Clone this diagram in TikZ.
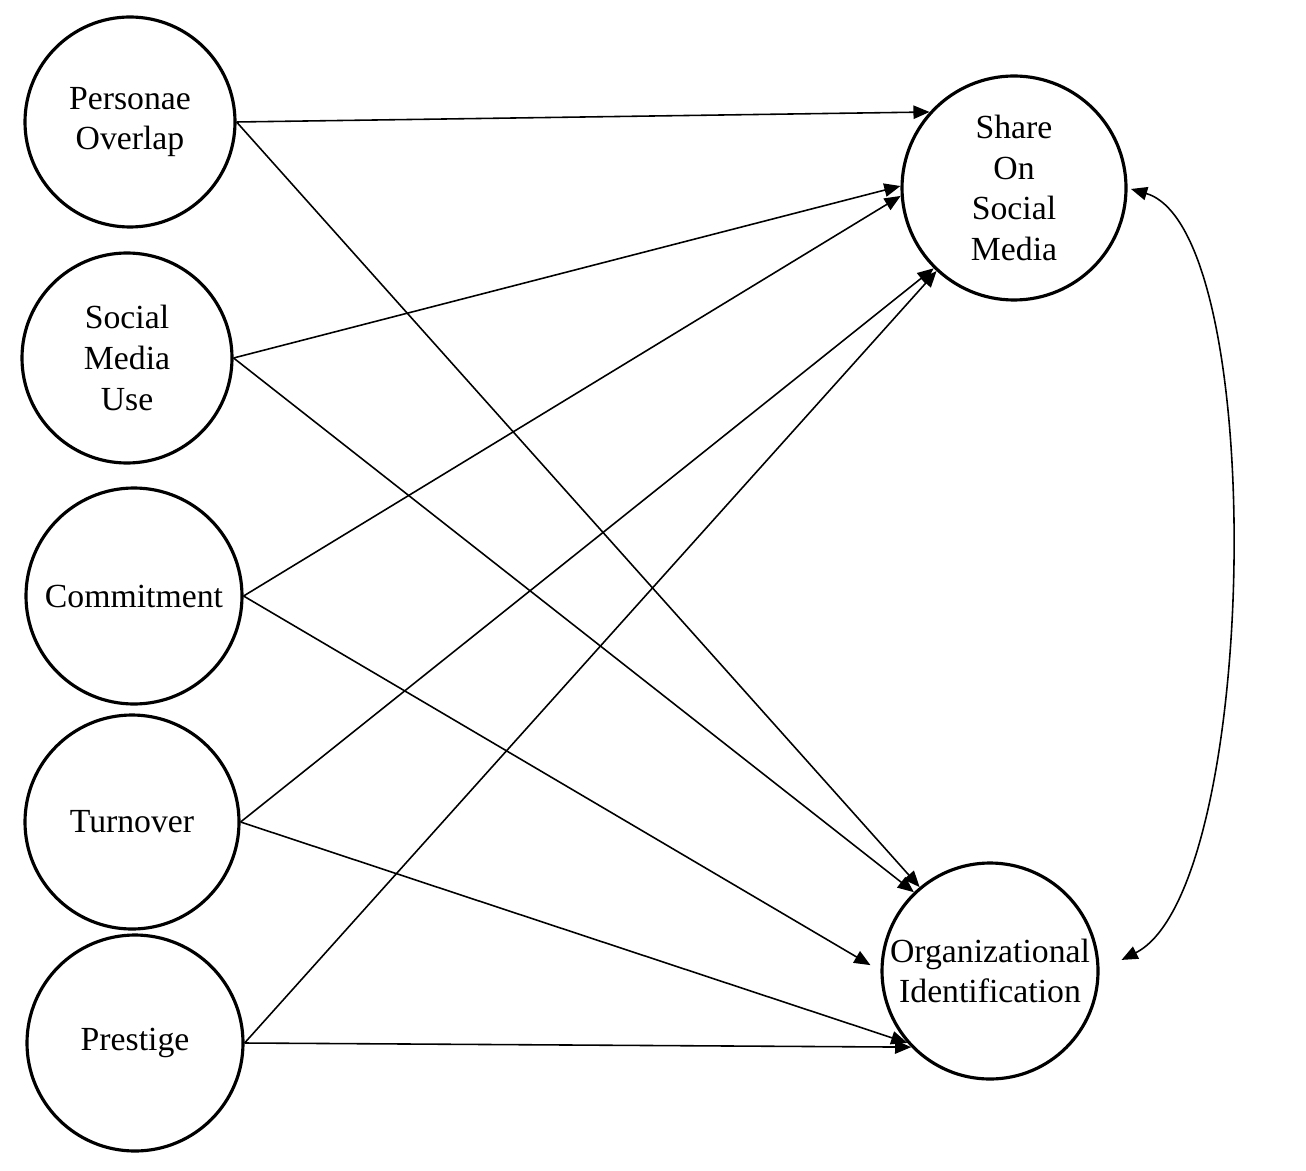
\documentclass[tikz,border=0pt]{standalone}
\usepackage{fontspec}
\setmainfont{Liberation Serif}
\usepackage{tikz}
\usetikzlibrary{arrows.meta}

\begin{document}
\begin{tikzpicture}[
    var/.style = {circle, draw, line width=0.9pt, align=center, inner sep=0pt,
                  font=\fontsize{9.6}{11.6}\selectfont},
    path/.style = {->, line width=0.45pt},
    >={Triangle[length=4.6pt, width=3.8pt]}]
    \useasboundingbox (0,0) rectangle (13.06,-11.70);

    % predictors on the left
    \node[var, minimum size=2.10cm] (po) at (1.30,-1.22) {Personae\\Overlap};
    \node[var, minimum size=2.10cm] (su) at (1.27,-3.58) {Social\\Media\\Use};
    \node[var, minimum size=2.16cm] (cm) at (1.34,-5.96) {Commitment};
    \node[var, minimum size=2.14cm] (to) at (1.32,-8.22) {Turnover};
    \node[var, minimum size=2.16cm] (pr) at (1.35,-10.43) {Prestige};

    % outcomes on the right
    \node[var, minimum size=2.24cm] (sm) at (10.14,-1.88) {Share\\On\\Social\\Media};
    \node[var, minimum size=2.16cm] (oi) at (9.90,-9.71) {Organizational\\Identification};

    % paths to share on social media
    \draw[path] (po.east) -- (sm.138);
    \draw[path] (su.east) -- (sm.179);
    \draw[path] (cm.east) -- (sm.184);
    \draw[path] (to.east) -- (sm.225);
    \draw[path] (pr.east) -- (sm.227);

    % paths to organizational identification
    \draw[path] (po.east) -- (oi.130);
    \draw[path] (su.east) -- (oi.134);
    \draw[path, shorten >=3.3pt] (cm.east) -- (oi.west);
    \draw[path] (to.east) -- (oi.221);
    \draw[path] (pr.east) -- (oi.224);

    % covariance
    \draw[<->, line width=0.45pt, shorten <=1pt, shorten >=7pt]
      (sm.east) .. controls (12.7,-2.3) and (12.6,-8.9) .. (oi.east);
\end{tikzpicture}
\end{document}
